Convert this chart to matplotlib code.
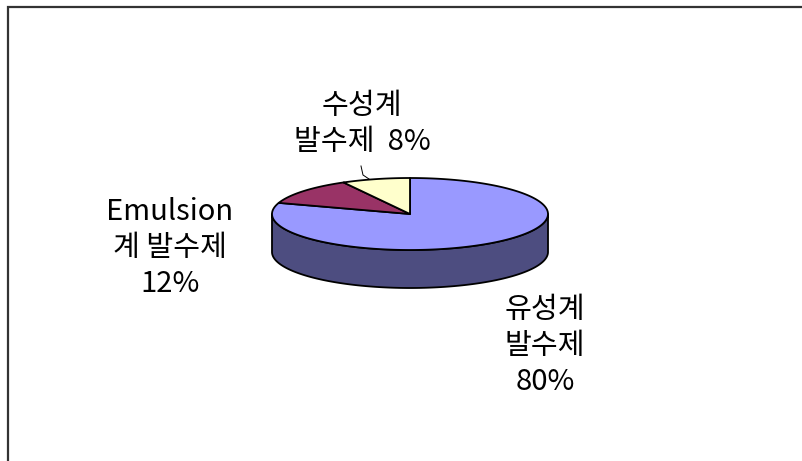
import numpy as np
import matplotlib.pyplot as plt
from matplotlib.patches import Polygon
from matplotlib.colors import to_rgb

plt.rcParams['font.family'] = ['Noto Sans CJK KR', 'DejaVu Sans']

names = ["유성계\n발수제", "Emulsion\n계 발수제", "수성계\n발수제"]
shares = [80, 12, 8]
joiners = ["\n", "\n", "  "]
colors = ["#9999FF", "#993366", "#FFFFCC"]

# pie geometry in pixels
cx, cy = 410, 214
rx, ry = 138, 36
depth = 38
label_pos = [(545, 346), (170, 248), (362, 124)]

fig = plt.figure(figsize=(8.03, 4.61), dpi=100)
ax = fig.add_axes([0, 0, 1, 1])
ax.set_xlim(0, 803)
ax.set_ylim(461, 0)
ax.axis('off')


def arc(t0, t1, n=200, dy=0):
    t = np.radians(np.linspace(t0, t1, n))
    return np.column_stack([cx + rx * np.cos(t), cy - ry * np.sin(t) + dy])


fracs = np.array(shares) / sum(shares)
starts = 90 - 360 * np.concatenate([[0], np.cumsum(fracs)[:-1]])
ends = starts - 360 * fracs

# side walls (front half only: -180..0)
for s, e, c in zip(starts, ends, colors):
    lo, hi = max(e, -180), min(s, 0)
    if lo >= hi:
        continue
    dark = tuple(v * 0.5 for v in to_rgb(c))
    top = arc(hi, lo)
    bot = arc(lo, hi, dy=depth)
    ax.add_patch(Polygon(np.vstack([top, bot]), closed=True, facecolor=dark,
                         edgecolor='black', linewidth=1.3, joinstyle='round'))

# top faces
for s, e, c in zip(starts, ends, colors):
    pts = np.vstack([[cx, cy], arc(s, e)])
    ax.add_patch(Polygon(pts, closed=True, facecolor=c, edgecolor='black',
                         linewidth=1.3, joinstyle='round'))

# labels
for name, val, j, (lx, ly) in zip(names, shares, joiners, label_pos):
    ax.text(lx, ly, f"{name}{j}{val}%", ha='center', va='center', fontsize=21,
            linespacing=1.27, color='black')

# leader line for the small slice
ax.plot([361, 363, 369], [166, 175, 179], color='black', linewidth=0.7)

# chart frame
ax.plot([8, 8, 803], [461, 7.5, 7.5], color='#333333', linewidth=1.6,
        solid_joinstyle='miter')

fig.savefig("out.png", dpi=100)
